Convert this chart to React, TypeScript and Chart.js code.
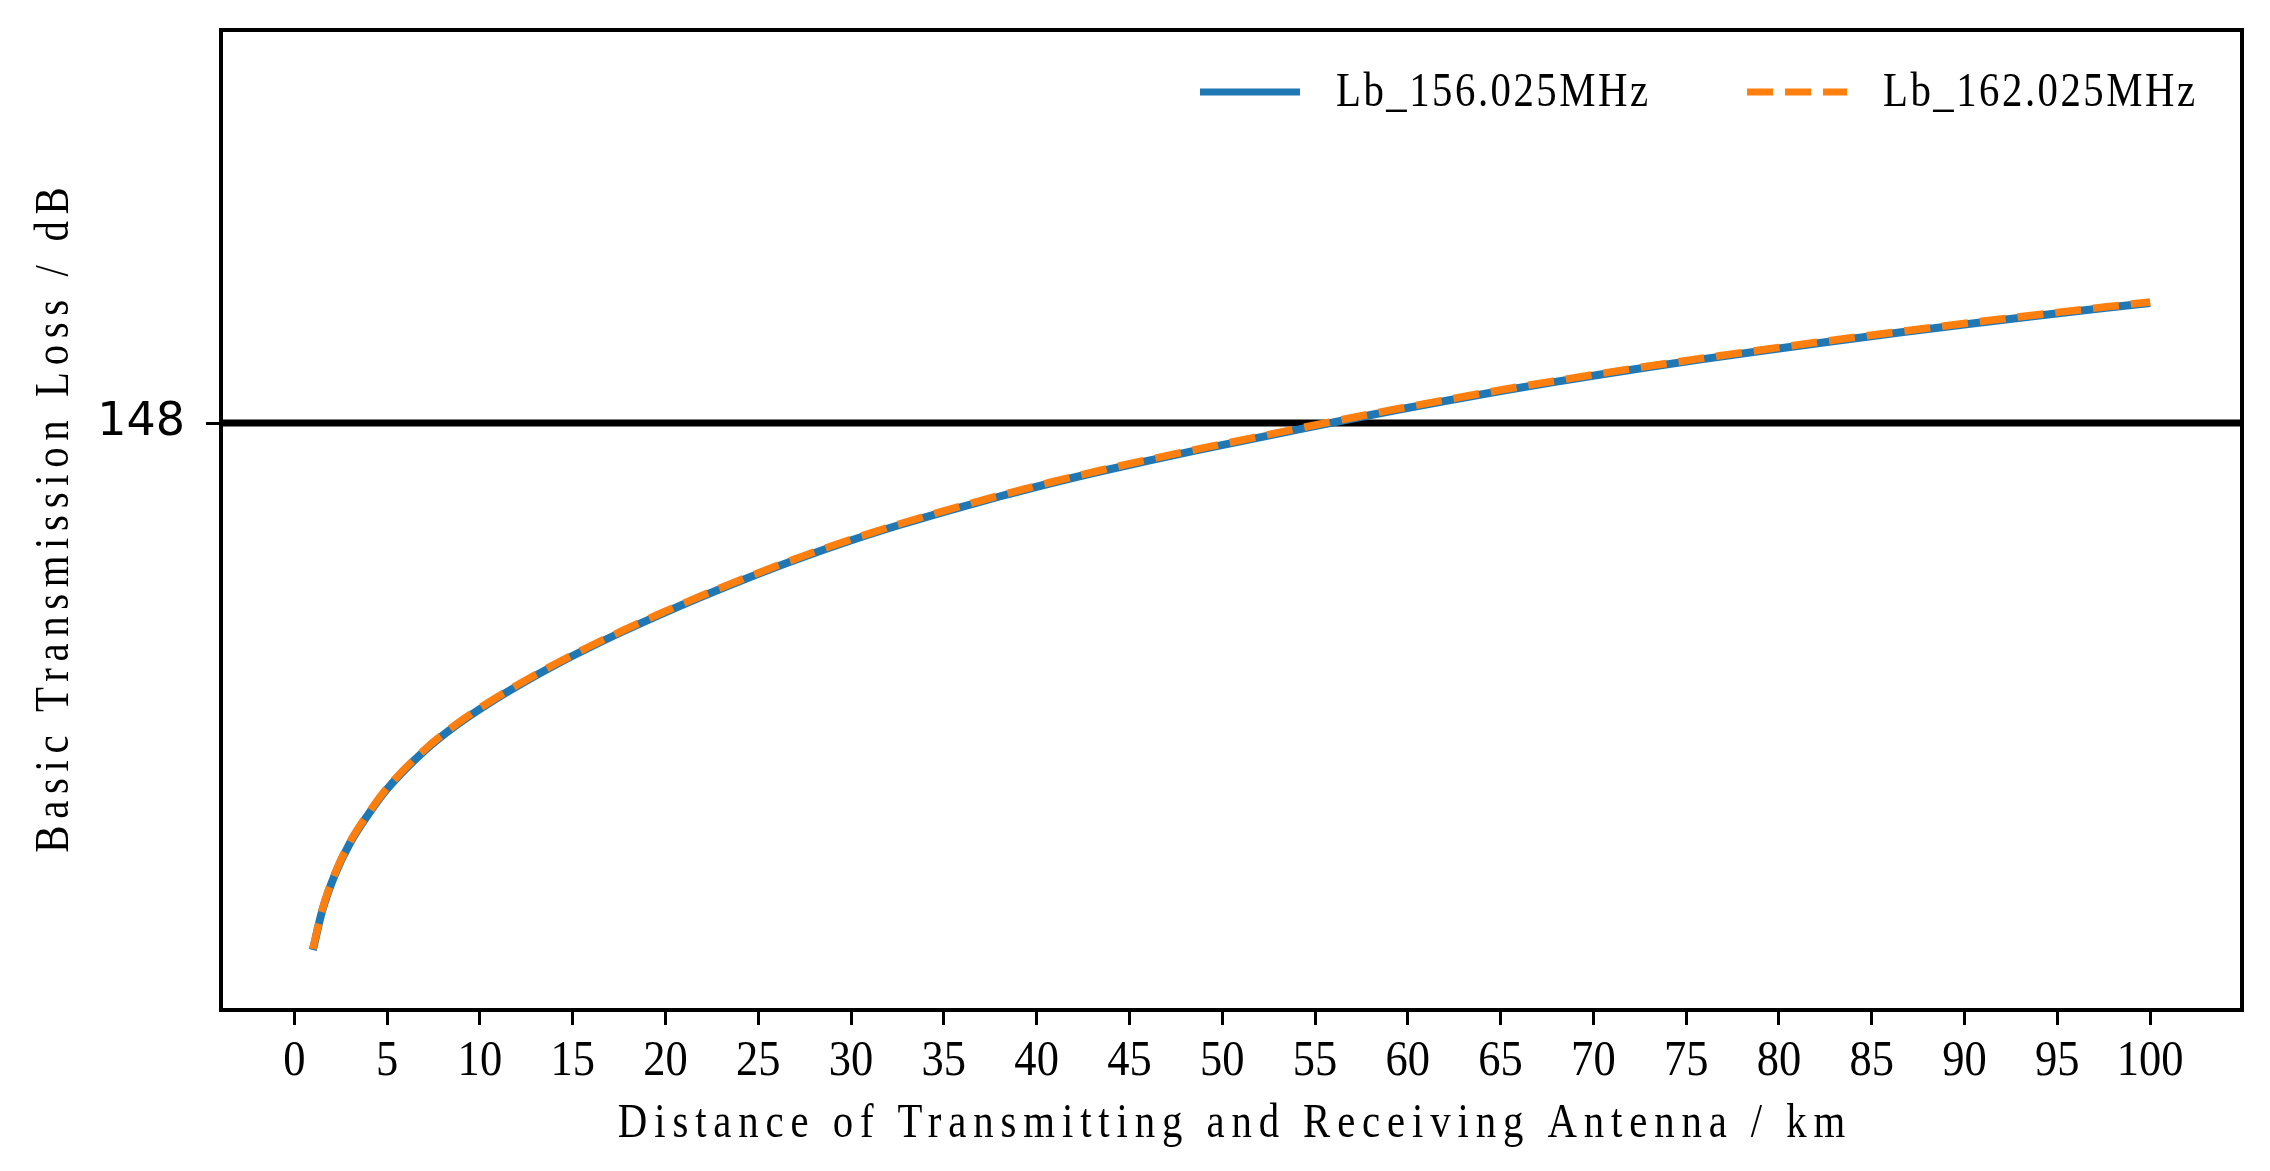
import React, { useEffect, useRef } from "react";
import { Chart, registerables } from "chart.js";

Chart.register(...registerables);

// ---- data ----
const DISTANCE_KM = [
  1, 1.5, 2.2, 3, 4, 5, 7, 8.7, 10.5, 12.3, 14.1, 15.9, 17.7, 19.5, 22, 24.5,
  27.2, 29.9, 32.6, 35.3, 38, 40.7, 43.4, 46.1, 48.8, 51.5, 54.2, 56.9, 59.6,
  62.3, 65, 67.7, 70.4, 73.1, 75.8, 79.4, 83, 86.6, 90.2, 93.8, 97.4, 100,
];
const LB_156 = [
  95.3, 99.2, 102.9, 106.0, 108.9, 111.4, 115.2, 117.75, 120.0, 122.0, 123.85,
  125.55, 127.15, 128.67, 130.67, 132.55, 134.45, 136.2, 137.8, 139.27, 140.65,
  141.95, 143.15, 144.27, 145.33, 146.37, 147.39, 148.4, 149.37, 150.3, 151.2,
  152.04, 152.85, 153.62, 154.36, 155.3, 156.2, 157.07, 157.9, 158.7, 159.47,
  160.0,
];
const LB_162 = [
  95.4, 99.3, 103.0, 106.1, 109.0, 111.5, 115.3, 117.85, 120.1, 122.1,
  123.95, 125.65, 127.25, 128.77, 130.77, 132.65, 134.55, 136.3, 137.9,
  139.37, 140.75, 142.05, 143.25, 144.37, 145.43, 146.47, 147.49, 148.5,
  149.47, 150.4, 151.3, 152.14, 152.95, 153.72, 154.46, 155.4, 156.3,
  157.17, 158.0, 158.8, 159.57, 160.1,
];
const SERIES_LABELS = ["Lb_156.025MHz", "Lb_162.025MHz"];
const X_TICKS = [0, 5, 10, 15, 20, 25, 30, 35, 40, 45, 50, 55, 60, 65, 70, 75, 80, 85, 90, 95, 100];
const Y_TICKS = [148];
const THRESHOLD_DB = 148;
const X_TITLE = "Distance of Transmitting and Receiving Antenna / km";
const Y_TITLE = "Basic Transmission Loss / dB";

const X_MIN = -3.95;
const X_MAX = 104.95;
const Y_MIN = 89.3;
const Y_MAX = 187.3;

const BLUE = "#1f77b4";
const ORANGE = "#ff7f0e";
const SERIF = '"Liberation Serif", "Times New Roman", serif';

// draws text with fixed per-character advance (imitating a half-width CJK serif face)
function drawText(
  ctx: CanvasRenderingContext2D,
  text: string,
  x: number,
  y: number,
  size: number,
  advance: number,
  sx: number,
  align: "center" | "left"
) {
  ctx.save();
  ctx.translate(x, y);
  ctx.scale(sx, 1);
  ctx.font = `${size}px ${SERIF}`;
  (ctx as any).letterSpacing = "0px";
  const w = ctx.measureText(text).width;
  const n = text.length;
  const adv = advance / sx;
  const extra = (n * adv - w) / n;
  (ctx as any).letterSpacing = `${extra}px`;
  ctx.textAlign = "left";
  ctx.textBaseline = "middle";
  const total = n * adv - extra;
  ctx.fillText(text, align === "center" ? -total / 2 : 0, 0);
  ctx.restore();
}

const decorPlugin = {
  id: "decor",
  beforeDatasetsDraw(chart: any) {
    const { ctx, chartArea, scales } = chart;
    const y = scales.y.getPixelForValue(THRESHOLD_DB);
    ctx.save();
    ctx.strokeStyle = "#000";
    ctx.lineWidth = 7;
    ctx.beginPath();
    ctx.moveTo(chartArea.left, y);
    ctx.lineTo(chartArea.right, y);
    ctx.stroke();
    ctx.restore();
  },
  afterDraw(chart: any) {
    const { ctx, chartArea, scales } = chart;
    const { left, right, top, bottom } = chartArea;
    ctx.save();
    // frame
    ctx.strokeStyle = "#000";
    ctx.lineWidth = 4;
    ctx.strokeRect(left, top, right - left, bottom - top);

    ctx.fillStyle = "#000";
    // x tick labels
    scales.x.ticks.forEach((t: any) => {
      const px = scales.x.getPixelForValue(t.value);
      drawText(ctx, String(t.value), px, bottom + 52, 50, 22.3, 0.89, "center");
    });

    // axis titles
    drawText(ctx, X_TITLE, (left + right) / 2, 1124, 48, 24.2, 0.85, "center");
    ctx.save();
    ctx.translate(55, (top + bottom) / 2);
    ctx.rotate(-Math.PI / 2);
    drawText(ctx, Y_TITLE, 0, 0, 48, 24.0, 0.85, "center");
    ctx.restore();

    // legend
    const ly = top + 62;
    const items = [
      { x: right - 1042, ds: chart.data.datasets[0] },
      { x: right - 495, ds: chart.data.datasets[1] },
    ];
    items.forEach((it) => {
      ctx.save();
      ctx.strokeStyle = it.ds.borderColor;
      ctx.lineWidth = 7;
      ctx.lineCap = "butt";
      ctx.setLineDash(it.ds.borderDash || []);
      ctx.beginPath();
      ctx.moveTo(it.x, ly);
      ctx.lineTo(it.x + 100, ly);
      ctx.stroke();
      ctx.restore();
      ctx.fillStyle = "#000";
      drawText(ctx, it.ds.label, it.x + 136, ly + 1, 48, 24.2, 0.85, "left");
    });
    ctx.restore();
  },
};

export default function App() {
  const ref = useRef<HTMLCanvasElement | null>(null);

  useEffect(() => {
    document.body.style.margin = "0";
    document.body.style.overflow = "hidden";
    const canvas = ref.current;
    if (!canvas) return;
    const chart = new Chart(canvas, {
      type: "line",
      data: {
        datasets: [
          {
            label: SERIES_LABELS[0],
            data: DISTANCE_KM.map((d, i) => ({ x: d, y: LB_156[i] })),
            borderColor: BLUE,
            borderWidth: 8,
            pointRadius: 0,
            fill: false,
            cubicInterpolationMode: "monotone",
            order: 2,
          },
          {
            label: SERIES_LABELS[1],
            data: DISTANCE_KM.map((d, i) => ({ x: d, y: LB_162[i] })),
            borderColor: ORANGE,
            borderWidth: 7.5,
            borderDash: [26, 12],
            borderCapStyle: "butt",
            pointRadius: 0,
            fill: false,
            cubicInterpolationMode: "monotone",
            order: 1,
          },
        ],
      },
      options: {
        animation: false,
        responsive: true,
        maintainAspectRatio: false,
        layout: { padding: { top: 30, right: 28, left: 0, bottom: 0 } },
        plugins: {
          legend: { display: false },
          tooltip: { enabled: false },
          title: { display: false },
        },
        scales: {
          x: {
            type: "linear",
            min: X_MIN,
            max: X_MAX,
            border: { display: false },
            grid: {
              drawOnChartArea: false,
              drawTicks: true,
              tickLength: 15,
              tickWidth: 3,
              tickColor: "#000",
            },
            afterBuildTicks: (scale: any) => {
              scale.ticks = X_TICKS.map((v) => ({ value: v }));
            },
            afterFit: (scale: any) => {
              scale.height = 161;
              scale.paddingLeft = 0;
              scale.paddingRight = 0;
            },
            ticks: { display: false, autoSkip: false },
          },
          y: {
            type: "linear",
            min: Y_MIN,
            max: Y_MAX,
            border: { display: false },
            grid: {
              drawOnChartArea: false,
              drawTicks: true,
              tickLength: 15,
              tickWidth: 3,
              tickColor: "#000",
            },
            afterBuildTicks: (scale: any) => {
              scale.ticks = Y_TICKS.map((v) => ({ value: v }));
            },
            afterFit: (scale: any) => {
              scale.width = 221;
              scale.paddingTop = 0;
              scale.paddingBottom = 0;
            },
            ticks: {
              padding: 21,
              color: "#000",
              font: { family: '"DejaVu Sans", sans-serif', size: 46 },
              callback: (v: any) => String(v),
            },
          },
        },
      },
      plugins: [decorPlugin],
    });
    return () => chart.destroy();
  }, []);

  return (
    <div style={{ position: "relative", width: "2270px", height: "1171px" }}>
      <canvas ref={ref} />
    </div>
  );
}
